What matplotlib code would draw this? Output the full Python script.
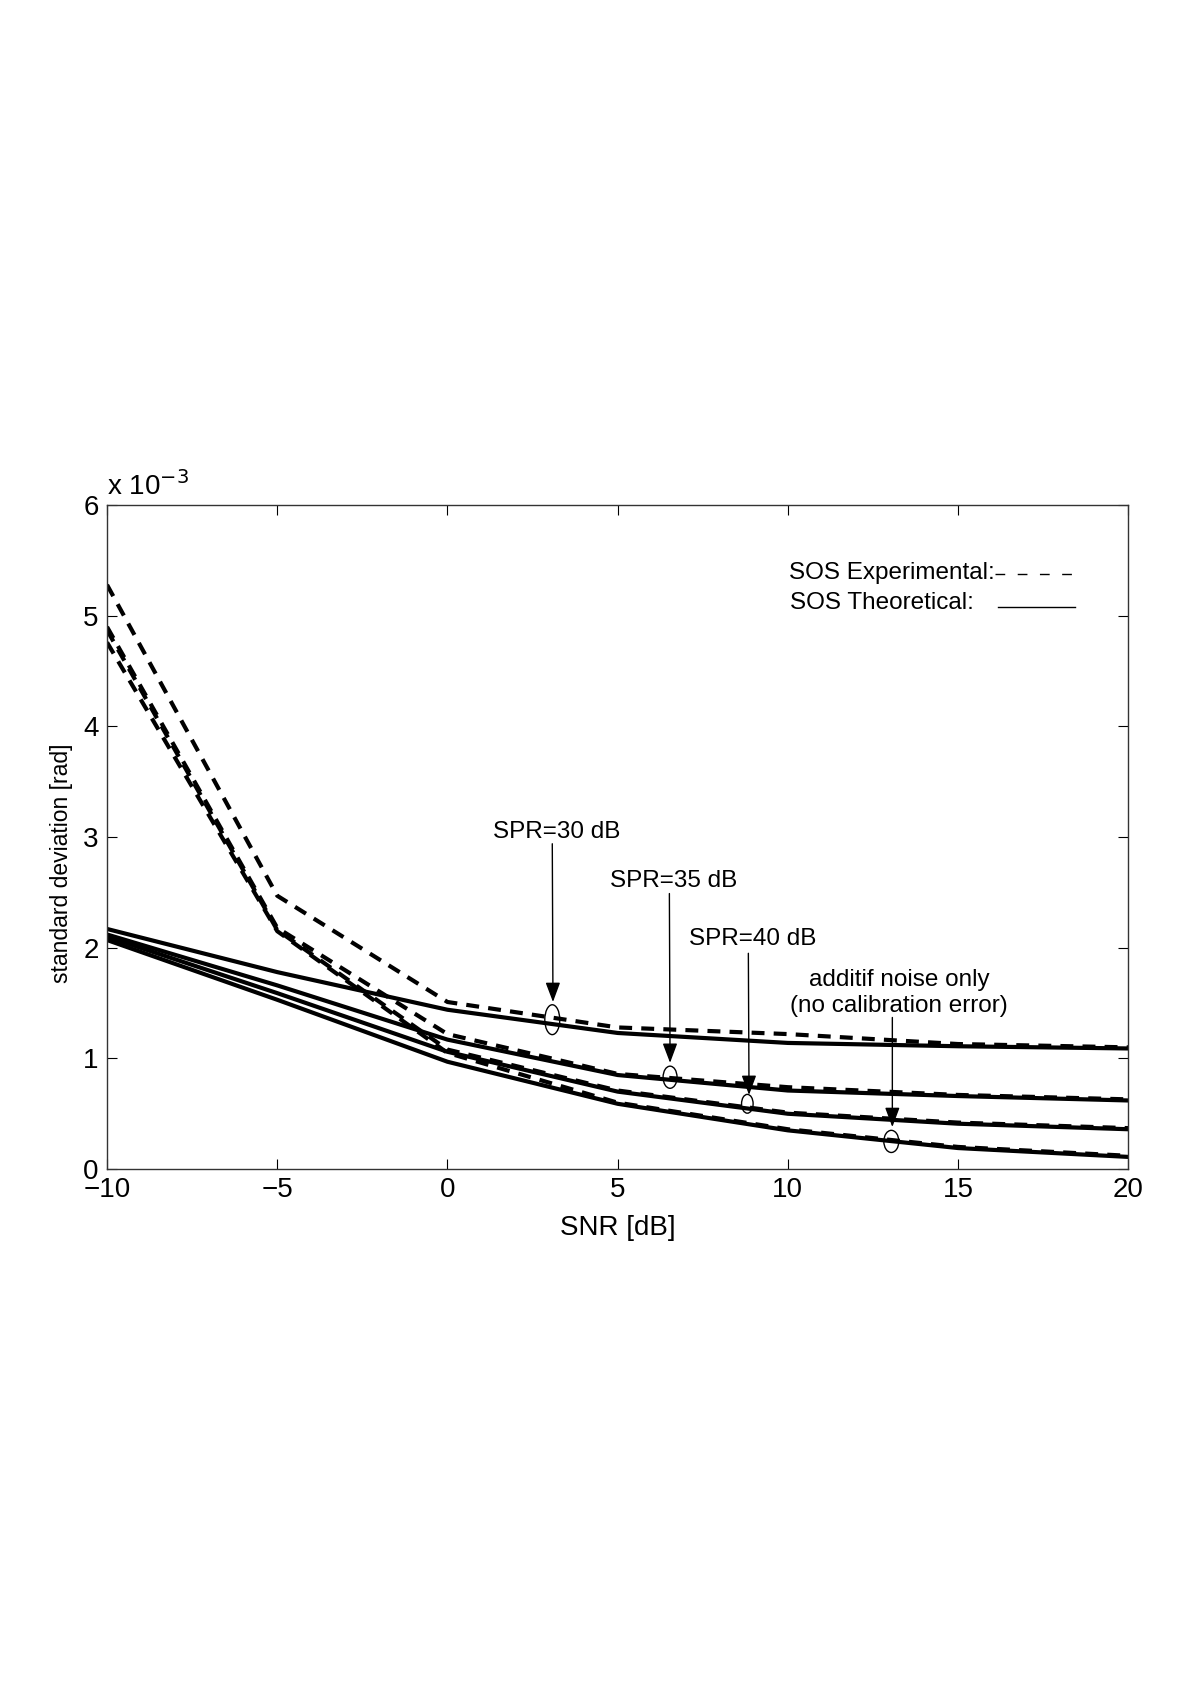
import matplotlib
matplotlib.use('Agg')
import matplotlib.pyplot as plt
from matplotlib.patches import Ellipse

plt.rcParams['font.family'] = ['Liberation Sans', 'DejaVu Sans']

# SNR axis [dB]
snr = [-10, -5, 0, 5, 10, 15, 20]

# standard deviation, in units of 1e-3 rad
spr30_theo = [2.17, 1.78, 1.44, 1.23, 1.14, 1.11, 1.09]
spr35_theo = [2.12, 1.66, 1.17, 0.85, 0.71, 0.66, 0.62]
spr40_theo = [2.10, 1.59, 1.06, 0.70, 0.50, 0.41, 0.36]
noise_theo = [2.07, 1.53, 0.97, 0.59, 0.35, 0.19, 0.11]

spr30_exp = [5.28, 2.47, 1.51, 1.28, 1.22, 1.13, 1.10]
spr35_exp = [4.90, 2.18, 1.22, 0.86, 0.74, 0.67, 0.63]
spr40_exp = [4.87, 2.16, 1.08, 0.71, 0.51, 0.42, 0.37]
noise_exp = [4.76, 2.15, 1.05, 0.60, 0.36, 0.20, 0.12]

# annotation labels: (text, text pos, arrow start, arrow tip, ellipse centre, ellipse w/h)
labels = ['SPR=30 dB', 'SPR=35 dB', 'SPR=40 dB', 'additif noise only\n(no calibration error)']
label_xy = [(3.22, 3.05), (6.63, 2.60), (8.98, 2.08), (13.27, 1.59)]
arrow_from = [(3.08, 2.94), (6.52, 2.49), (8.84, 1.95), (13.07, 1.37)]
arrow_to = [(3.10, 1.51), (6.54, 0.96), (8.86, 0.67), (13.07, 0.38)]
ell_xy = [(3.08, 1.35), (6.54, 0.83), (8.81, 0.59), (13.04, 0.25)]
ell_wh = [(0.44, 0.27), (0.41, 0.20), (0.34, 0.17), (0.44, 0.20)]

fig = plt.figure(figsize=(12, 16.98), dpi=100)
ax = fig.add_axes([0.0892, 0.3115, 0.851, 0.391])

lw = 3.0
dash = (0, (3.1, 2.2))
for ys in [spr30_theo, spr35_theo, spr40_theo, noise_theo]:
    ax.plot(snr, ys, color='black', lw=lw, solid_joinstyle='round')
for ys in [spr30_exp, spr35_exp, spr40_exp, noise_exp]:
    ax.plot(snr, ys, color='black', lw=lw, linestyle=dash)

# annotations
for txt, tpos, a0, a1, ec, ewh in zip(labels, label_xy, arrow_from, arrow_to, ell_xy, ell_wh):
    ax.text(tpos[0], tpos[1], txt, ha='center', va='center', fontsize=17.5,
            linespacing=1.2)
    ax.annotate('', xy=a1, xytext=a0,
                arrowprops=dict(arrowstyle='-|>,head_length=1.2,head_width=0.45',
                                color='black', lw=1.0, shrinkA=0, shrinkB=0))
    ax.add_patch(Ellipse(ec, ewh[0], ewh[1], fill=False, edgecolor='black', lw=1.0))

# hand-drawn legend as in the original
ax.text(0.668, 0.898, 'SOS Experimental:', transform=ax.transAxes,
        ha='left', va='center', fontsize=17.5)
ax.plot([0.870, 0.948], [0.896, 0.896], transform=ax.transAxes, color='black',
        lw=1.0, linestyle=(0, (7, 9)))
ax.text(0.669, 0.852, 'SOS Theoretical:', transform=ax.transAxes,
        ha='left', va='center', fontsize=17.5)
ax.plot([0.872, 0.948], [0.847, 0.847], transform=ax.transAxes, color='black', lw=1.0)

ax.set_xlim(-10, 20)
ax.set_ylim(0, 6)
ax.set_xticks([-10, -5, 0, 5, 10, 15, 20])
ax.set_yticks([0, 1, 2, 3, 4, 5, 6])
ax.tick_params(direction='in', length=7, width=0.8, top=True, right=True,
               labelsize=20, pad=6)
for s in ax.spines.values():
    s.set_linewidth(1.0)
    s.set_color('#333333')

ax.text(0.0, 1.015, r'x 10$^{-3}$', transform=ax.transAxes, ha='left',
        va='baseline', fontsize=20)
ax.set_xlabel('SNR [dB]', fontsize=20, labelpad=8)
ax.set_ylabel('standard deviation [rad]', fontsize=16.5)
ax.yaxis.set_label_coords(-0.033, 0.46)

fig.savefig('out.png', dpi=100)
